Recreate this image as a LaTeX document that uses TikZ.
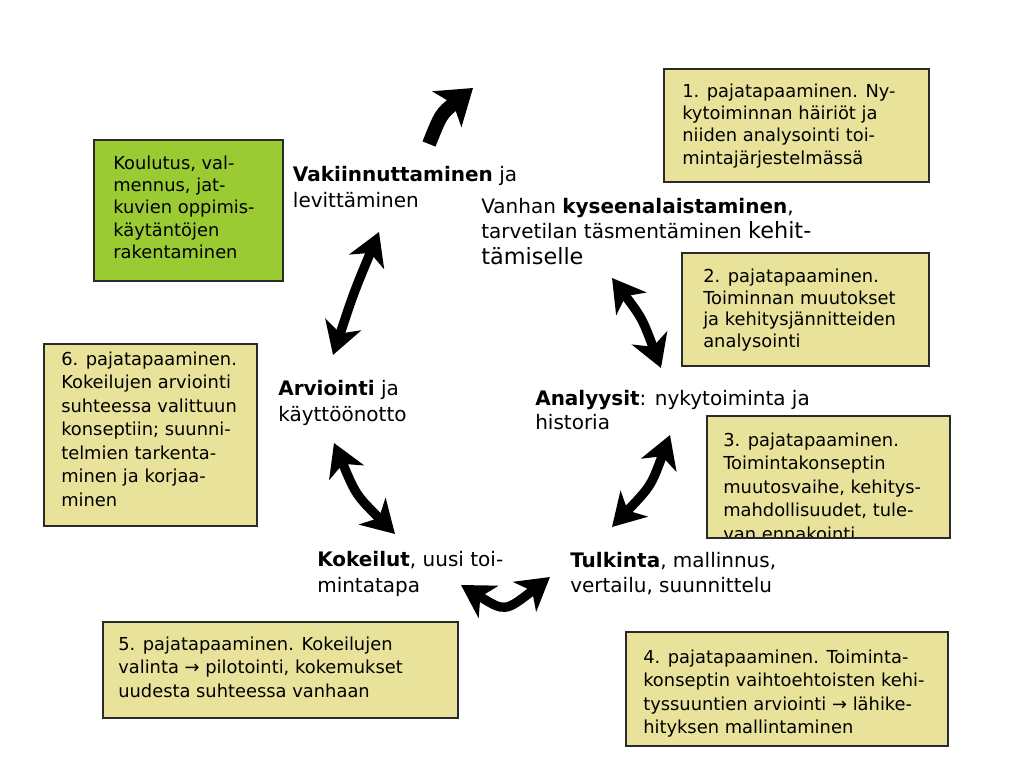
\documentclass[tikz,border=0pt]{standalone}
\usepackage{fontspec}
\setmainfont{DejaVu Sans}
\usetikzlibrary{arrows.meta}
\definecolor{khaki}{HTML}{E9E29A}
\definecolor{leaf}{HTML}{9ACB32}
\definecolor{edge}{HTML}{2A2A2A}
\begin{document}
\begin{tikzpicture}[x=0.75pt,y=-0.75pt,
  panel/.style={draw=edge,line width=1.5pt,fill=khaki},
  greenpanel/.style={panel,fill=leaf},
  boxtext/.style={anchor=north west,inner sep=0pt,align=left,font=\fontsize{13.4}{16.7}\selectfont},
  boxtextw/.style={anchor=north west,inner sep=0pt,align=left,font=\fontsize{13.4}{17.6}\selectfont},
  phase/.style={anchor=north west,inner sep=0pt,align=left,font=\fontsize{15}{19}\selectfont},
  twoway/.style={line width=7pt,{Stealth[length=24pt,width=28pt,inset=7pt]}-{Stealth[length=24pt,width=28pt,inset=7pt]}},
  oneway/.style={line width=10.5pt,-{Stealth[length=25pt,width=34pt,inset=6pt]}},
]
\useasboundingbox (0,0) rectangle (1024,777);
\fill[white] (0,0) rectangle (1024,777);

% boxes
\draw[panel] (664,69) rectangle (929,182);
\node[boxtext] (t1) at (682,83.5) {1. pajatapaaminen. Ny-\\kytoiminnan häiriöt ja\\niiden analysointi toi-\\mintajärjestelmässä};

\draw[greenpanel] (94,140) rectangle (283,281);
\node[boxtext] (tg) at (113,155.5) {Koulutus, val-\\mennus, jat-\\kuvien oppimis-\\käytäntöjen\\rakentaminen};

\draw[panel] (682,253) rectangle (929,366);
\node[boxtext,font=\fontsize{13.4}{16.3}\selectfont] (t2) at (703,268.5) {2. pajatapaaminen.\\Toiminnan muutokset\\ja kehitysjännitteiden\\analysointi};

\draw[panel] (707,416) rectangle (950,538);
\begin{scope}
  \clip (707,416) rectangle (950,538);
  \node[boxtextw] (t3) at (723,432.5) {3. pajatapaaminen.\\Toimintakonseptin\\muutosvaihe, kehitys-\\mahdollisuudet, tule-\\van ennakointi};
\end{scope}
\draw[draw=edge,line width=1.5pt] (707,416) rectangle (950,538);

\draw[panel] (44,344) rectangle (257,526);
\node[boxtextw] (t6) at (61,351.5) {6. pajatapaaminen.\\Kokeilujen arviointi\\suhteessa valittuun\\konseptiin; suunni-\\telmien tarkenta-\\minen ja korjaa-\\minen};

\draw[panel] (103,622) rectangle (458,718);
\node[boxtextw] (t5) at (118,636.5) {5. pajatapaaminen. Kokeilujen\\valinta → pilotointi, kokemukset\\uudesta suhteessa vanhaan};

\draw[panel] (626,632) rectangle (948,746);
\node[boxtextw] (t4) at (643,649.5) {4. pajatapaaminen. Toiminta-\\konseptin vaihtoehtoisten kehi-\\tyssuuntien arviointi → lähike-\\hityksen mallintaminen};

% phase labels
\node[phase,font=\fontsize{15}{19.5}\selectfont] (vak) at (292.7,166.5) {\textbf{Vakiinnuttaminen} ja\\levittäminen};
\node[phase] (van) at (481,198) {Vanhan \textbf{kyseenalaistaminen},\\tarvetilan täsmentäminen {\fontsize{16.8}{19}\selectfont kehit-}\\{\fontsize{16.8}{19}\selectfont tämiselle}};
\node[phase,font=\fontsize{15}{18}\selectfont] (ana) at (535,390) {\textbf{Analyysit}: nykytoiminta ja\\historia};
\node[phase] (tul) at (570,552) {\textbf{Tulkinta}, mallinnus,\\vertailu, suunnittelu};
\node[phase] (kok) at (317,551.5) {\textbf{Kokeilut}, uusi toi-\\mintatapa};
\node[phase,font=\fontsize{15}{19.5}\selectfont] (arv) at (278,380) {\textbf{Arviointi} ja\\käyttöönotto};

% arrow end points
\coordinate (topS) at (429,144);
\coordinate (topE) at (473,88);
\coordinate (luA) at (379,232);
\coordinate (luB) at (333,355);
\coordinate (ruA) at (612,278);
\coordinate (ruB) at (661,368);
\coordinate (rlA) at (670,435);
\coordinate (rlB) at (612,527);
\coordinate (llA) at (334,443);
\coordinate (llB) at (395,534);
\coordinate (boA) at (461,585);
\coordinate (boB) at (550,577);

% arrows
\draw[oneway] (topS) .. controls (441,114) .. (topE);
\draw[twoway] (luA) .. controls (354,292) .. (luB);
\draw[twoway] (ruA) .. controls (642,318) .. (ruB);
\draw[twoway] (rlA) .. controls (651,486) .. (rlB);
\draw[twoway] (llA) .. controls (356,495) .. (llB);
\draw[twoway] (boA) .. controls (505,612) .. (boB);
\end{tikzpicture}
\end{document}
